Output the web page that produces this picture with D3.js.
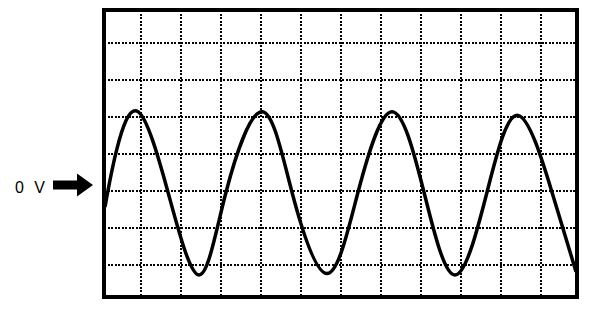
<!DOCTYPE html>
<meta charset="utf-8">
<style>
    body {
        margin: 0;
        background: white;
    }

    .grid {
        stroke: black;
        stroke-width: 1.5;
        stroke-dasharray: 2, 1.5;
        shape-rendering: crispEdges;
    }

    .frame {
        fill: none;
        stroke: black;
        stroke-width: 4;
    }

    .wave {
        fill: none;
        stroke: black;
        stroke-width: 3.5;
    }
</style>

<body>
    <svg width="608" height="314"></svg>
    <script src="https://d3js.org/d3.v7.min.js"></script>
    <script>
        // time in divisions, voltage in divisions
        var waveTime = [0.1, 0.39, 0.925, 1.675, 2.45, 3.125, 4.025, 4.775, 5.65, 6.425, 7.275, 8.075, 8.85, 9.65, 10.425, 11.275, 11.875];
        var waveVolt = [-0.43, 1.11, 2.15, -0.03, -2.27, -0.03, 2.15, -0.03, -2.23, -0.03, 2.15, -0.03, -2.27, -0.03, 2.05, -0.03, -2.18];

        var gridTime = [1, 2, 3, 4, 5, 6, 7, 8, 9, 10, 11];
        var gridVolt = [-2, -1, 0, 1, 2, 3, 4];
        var zeroLabel = "0 V";

        var svg = d3.select("svg");

        var x = d3.scaleLinear().domain([0, 12]).range([101, 581]);
        var y = d3.scaleLinear().domain([-3, 5]).range([301.95, 6.35]);

        // frame sits a little inside the outer grid divisions
        var frame = { left: 104, right: 577, top: 10, bottom: 297 };

        var g = svg.append("g");

        g.append("g")
            .selectAll("line")
            .data(gridTime)
            .enter().append("line")
            .attr("class", "grid")
            .attr("x1", function(d) { return Math.round(x(d)); })
            .attr("x2", function(d) { return Math.round(x(d)); })
            .attr("y1", frame.top)
            .attr("y2", frame.bottom);

        g.append("g")
            .selectAll("line")
            .data(gridVolt)
            .enter().append("line")
            .attr("class", "grid")
            .attr("x1", frame.left)
            .attr("x2", frame.right)
            .attr("y1", function(d) { return Math.round(y(d)); })
            .attr("y2", function(d) { return Math.round(y(d)); });

        var points = waveTime.map(function(t, i) {
            return [t, waveVolt[i]];
        });

        var line = d3.line()
            .x(function(d) { return x(d[0]); })
            .y(function(d) { return y(d[1]); })
            .curve(d3.curveNatural);

        g.append("path")
            .datum(points)
            .attr("class", "wave")
            .attr("d", line);

        g.append("rect")
            .attr("class", "frame")
            .attr("x", frame.left)
            .attr("y", frame.top)
            .attr("width", frame.right - frame.left)
            .attr("height", frame.bottom - frame.top);

        // 0 V marker on the left
        var ay = y(0) - 6;
        g.append("text")
            .attr("x", 15)
            .attr("y", ay + 8)
            .attr("font-family", "Liberation Sans, Arial, sans-serif")
            .attr("font-size", 16)
            .attr("letter-spacing", 3)
            .attr("fill", "black")
            .text(zeroLabel);

        g.append("path")
            .attr("fill", "black")
            .attr("d", "M53," + (ay - 4.5) + "H77V" + (ay - 11.5) + "L93," + ay +
                "L77," + (ay + 11.5) + "V" + (ay + 4.5) + "H53Z");
    </script>
</body>
